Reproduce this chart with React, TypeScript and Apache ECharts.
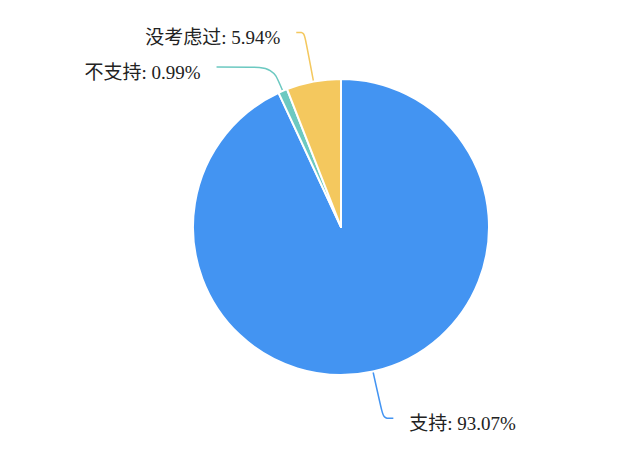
import React, { useEffect, useRef } from 'react';
import * as echarts from 'echarts';

const categories = ['支持', '不支持', '没考虑过'];
const counts = [94, 1, 6];
const colors = ['#4394F2', '#6CC9C1', '#F4C85E'];
// label line lengths per slice [length, length2]
const lineLengths = [
  [48, 10],
  [26, 56],
  [50, 8]
];

export default function App() {
  const chartRef = useRef<HTMLDivElement>(null);

  useEffect(() => {
    if (!chartRef.current) return;
    const chart = echarts.init(chartRef.current, undefined, { renderer: 'svg' });

    chart.setOption({
      animation: false,
      color: colors,
      series: [
        {
          type: 'pie',
          center: [341, 227],
          radius: [0, 148],
          startAngle: 90,
          clockwise: true,
          avoidLabelOverlap: false,
          itemStyle: { borderColor: '#fff', borderWidth: 2 },
          label: {
            formatter: '{t|{b}: {d}%}',
            padding: [0, 11, 0, 11],
            rich: {
              t: {
                fontSize: 19,
                color: '#222',
                fontFamily: 'Liberation Serif, Noto Sans CJK SC, serif',
                padding: [10, 0, 0, 0]
              }
            }
          },
          labelLine: { smooth: true, lineStyle: { width: 1.5 } },
          data: categories.map((name, i) => ({
            name,
            value: counts[i],
            labelLine: { length: lineLengths[i][0], length2: lineLengths[i][1] }
          }))
        }
      ]
    });

    return () => chart.dispose();
  }, []);

  return (
    <div
      ref={chartRef}
      style={{ position: 'fixed', left: 0, top: 0, width: 640, height: 455, background: '#fff' }}
    />
  );
}
